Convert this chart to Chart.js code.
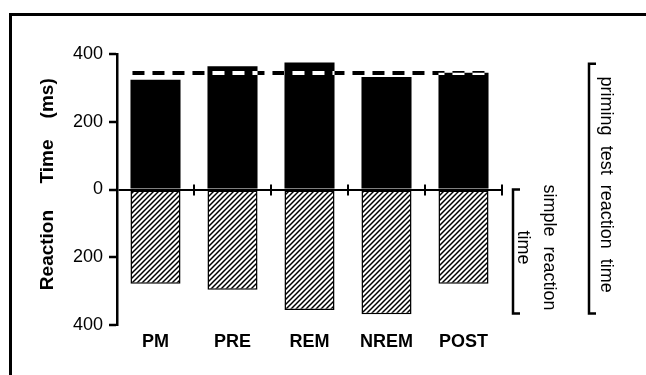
<!DOCTYPE html>
<html>
<head>
<meta charset="utf-8">
<script src="https://cdn.jsdelivr.net/npm/chart.js@4.4.1/dist/chart.umd.min.js"></script>
<style>
  html, body { margin: 0; padding: 0; background: #fff; overflow: hidden; }
  #wrap { position: relative; width: 646px; height: 375px; overflow: hidden; }
  canvas { position: absolute; left: 0; top: 0; }
  #frame { position: absolute; left: 9px; top: 13px; width: 700px; height: 400px;
           border-left: 3px solid #000; border-top: 3px solid #000; pointer-events: none; }
</style>
</head>
<body>
<div id="wrap">
  <canvas id="chart" width="646" height="375"></canvas>
  <div id="frame"></div>
</div>
<script>
// data (ms)
const categories = ["PM", "PRE", "REM", "NREM", "POST"];
const primingRT = [324, 364, 375, 332, 345];
const simpleRT = [278, 296, 356, 368, 278];
const primingMean = 344;
const yTickStep = 200;

// right hand brackets, in value units of the y scale
const brackets = [
  { lines: ["priming  test  reaction  time"], top: 371, bottom: -366, dx: 87, textDx: [17] },
  { lines: ["simple  reaction", "time"], top: 0, bottom: -366, dx: 11, textDx: [36, 10] }
];

const FONT = "'Liberation Sans', Arial, Helvetica, sans-serif";

function hatchPattern() {
  const c = document.createElement("canvas");
  c.width = 5; c.height = 5;
  const g = c.getContext("2d");
  g.fillStyle = "#fff";
  g.fillRect(0, 0, 5, 5);
  g.strokeStyle = "#000";
  g.lineWidth = 1.5;
  g.beginPath();
  g.moveTo(0, 5); g.lineTo(5, 0);
  g.moveTo(-1, 1); g.lineTo(1, -1);
  g.moveTo(4, 6); g.lineTo(6, 4);
  g.stroke();
  return g.createPattern(c, "repeat");
}

const whiteBg = {
  id: "whiteBg",
  beforeDraw(chart) {
    const ctx = chart.ctx;
    ctx.save();
    ctx.fillStyle = "#fff";
    ctx.fillRect(0, 0, chart.width, chart.height);
    ctx.restore();
  }
};

const extras = {
  id: "extras",
  afterDatasetsDraw(chart) {
    const ctx = chart.ctx;
    const xs = chart.scales.x, ys = chart.scales.y;
    const area = chart.chartArea;
    const y0 = ys.getPixelForValue(0);

    // crossing ticks on the zero line at the category borders
    ctx.save();
    ctx.strokeStyle = "#000";
    ctx.lineWidth = 2;
    for (let i = 0; i < categories.length; i++) {
      const x = i < categories.length - 1
        ? (xs.getPixelForValue(i) + xs.getPixelForValue(i + 1)) / 2
        : area.right;
      ctx.beginPath();
      ctx.moveTo(x, y0 - 5);
      ctx.lineTo(x, y0 + 6);
      ctx.stroke();
    }
    ctx.restore();

    // dashed mean line, inverted where it crosses the black bars
    const bars = chart.getDatasetMeta(0).data;
    const first = bars[0], last = bars[bars.length - 1];
    const yd = ys.getPixelForValue(primingMean);
    ctx.save();
    ctx.globalCompositeOperation = "difference";
    ctx.strokeStyle = "#fff";
    ctx.lineWidth = 4;
    ctx.setLineDash([12, 8]);
    ctx.beginPath();
    ctx.moveTo(first.x - first.width / 2 + 2, yd);
    ctx.lineTo(last.x + last.width / 2, yd);
    ctx.stroke();
    ctx.restore();

    // brackets with rotated labels
    ctx.save();
    ctx.strokeStyle = "#000";
    ctx.fillStyle = "#000";
    ctx.lineWidth = 2.5;
    ctx.font = "18px " + FONT;
    ctx.textAlign = "center";
    ctx.textBaseline = "middle";
    brackets.forEach(b => {
      const bx = area.right + b.dx;
      const t = ys.getPixelForValue(b.top), bt = ys.getPixelForValue(b.bottom);
      ctx.beginPath();
      ctx.moveTo(bx + 7, t);
      ctx.lineTo(bx, t);
      ctx.lineTo(bx, bt);
      ctx.lineTo(bx + 7, bt);
      ctx.stroke();
      b.lines.forEach((txt, k) => {
        ctx.save();
        ctx.translate(bx + b.textDx[k], (t + bt) / 2 - 4);
        ctx.rotate(Math.PI / 2);
        ctx.fillText(txt, 0, 0);
        ctx.restore();
      });
    });
    ctx.restore();
  }
};

new Chart(document.getElementById("chart"), {
  type: "bar",
  data: {
    labels: categories,
    datasets: [
      {
        label: "priming test reaction time",
        data: primingRT,
        backgroundColor: "#000",
        borderWidth: 0
      },
      {
        label: "simple reaction time",
        data: simpleRT.map(v => -v),
        backgroundColor: hatchPattern(),
        borderColor: "#000",
        borderWidth: 1.5,
        borderSkipped: false
      }
    ]
  },
  options: {
    responsive: false,
    animation: false,
    devicePixelRatio: 1,
    categoryPercentage: 1,
    barPercentage: 0.65,
    layout: { padding: { left: 0, top: 54, right: 144, bottom: 0 } },
    plugins: { legend: { display: false }, tooltip: { enabled: false } },
    scales: {
      x: {
        stacked: true,
        grid: { display: false, drawTicks: false },
        border: { display: false },
        ticks: { color: "#000", padding: 6, font: { family: FONT, size: 18, weight: "bold" } },
        afterFit(s) { s.height = 50; }
      },
      y: {
        stacked: true,
        min: -400,
        max: 400,
        ticks: {
          stepSize: yTickStep,
          color: "#000",
          padding: 6,
          font: { family: FONT, size: 18 },
          callback: v => Math.abs(v)
        },
        grid: {
          color: c => (c.tick && c.tick.value === 0 ? "#000" : "rgba(0,0,0,0)"),
          lineWidth: 2,
          tickColor: "#000",
          tickWidth: 2.5,
          tickLength: 8
        },
        border: { display: true, color: "#000", width: 2.5 },
        title: {
          display: true,
          text: "  Reaction     Time    (ms)",
          color: "#000",
          font: { family: FONT, size: 19, weight: "bold" },
          padding: { top: 36, bottom: 0 }
        },
        afterFit(s) { s.width = 117; }
      }
    }
  },
  plugins: [whiteBg, extras]
});
</script>
</body>
</html>
